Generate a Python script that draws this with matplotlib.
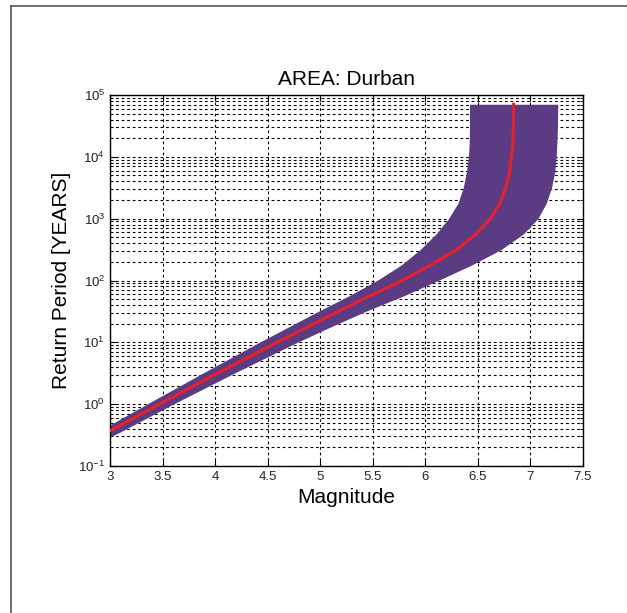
import matplotlib
matplotlib.use("Agg")
import matplotlib.pyplot as plt
from matplotlib.lines import Line2D
from matplotlib.ticker import LogLocator, NullFormatter
import numpy as np

# ---- data ----
log_T = [-0.6, -0.43, 0.0, 0.5, 1.0, 1.25, 1.5, 1.75, 2.0, 2.25, 2.5, 2.75,
         3.0, 3.25, 3.5, 3.75, 4.0, 4.25, 4.5, 4.85]
M_center = [2.81, 3.0, 3.47, 4.02, 4.59, 4.88, 5.17, 5.47, 5.78, 6.05, 6.30, 6.48,
            6.62, 6.71, 6.765, 6.80, 6.82, 6.832, 6.838, 6.84]
M_left = [2.72, 2.90, 3.35, 3.88, 4.42, 4.70, 4.98, 5.27, 5.54, 5.77, 5.95, 6.10,
          6.22, 6.31, 6.36, 6.39, 6.41, 6.418, 6.42, 6.42]
M_right = [2.92, 3.12, 3.60, 4.18, 4.78, 5.10, 5.43, 5.79, 6.12, 6.44, 6.72, 6.93,
           7.07, 7.15, 7.20, 7.23, 7.245, 7.252, 7.257, 7.26]

title = "AREA: Durban"
xlabel = "Magnitude"
ylabel = "Return Period [YEARS]"
xticks = [3, 3.5, 4, 4.5, 5, 5.5, 6, 6.5, 7, 7.5]
xticklabels = ["3", "3.5", "4", "4.5", "5", "5.5", "6", "6.5", "7", "7.5"]

plt.rcParams['font.family'] = ['Liberation Sans', 'DejaVu Sans']
plt.rcParams['mathtext.fontset'] = 'custom'
plt.rcParams['mathtext.rm'] = 'Liberation Sans'

fig = plt.figure(figsize=(6.27, 6.13), dpi=100)
W, H = 627, 613
ax = fig.add_axes([110 / W, 1 - 466 / H, (583 - 110) / W, (466 - 95) / H])

T = 10 ** np.array(log_T)
ax.fill_betweenx(T, M_left, M_right, color="#5B3C82", linewidth=0, zorder=2)
ax.plot(M_center, T, color="#E8202C", linewidth=2.2, zorder=3, solid_joinstyle="round")

ax.set_yscale("log")
ax.set_xlim(3, 7.5)
ax.set_ylim(1e-1, 1e5)
ax.set_xticks(xticks)
ax.set_xticklabels(xticklabels)
ax.yaxis.set_major_locator(LogLocator(base=10, numticks=10))
ax.yaxis.set_minor_locator(LogLocator(base=10, subs=np.arange(2, 10), numticks=100))
ax.yaxis.set_minor_formatter(NullFormatter())

ax.grid(True, which="major", axis="both", color="black", linestyle=(0, (2.5, 2.5)), linewidth=0.8, zorder=1)
ax.grid(True, which="minor", axis="y", color="black", linestyle=(0, (2.5, 2.5)), linewidth=0.8, zorder=1)
ax.set_axisbelow(True)

ax.tick_params(which="both", direction="in", top=True, right=True, labelsize=9.5, colors="black", labelcolor="#222233")
ax.tick_params(which="major", length=4)
ax.tick_params(which="minor", length=2.5)
for s in ax.spines.values():
    s.set_linewidth(1.0)

ax.set_title(title, fontsize=15, pad=7)
ax.set_xlabel(xlabel, fontsize=15, labelpad=4)
ax.set_ylabel(ylabel, fontsize=15, labelpad=5)

# outer frame of the original picture (left and top edges visible)
fig.add_artist(Line2D([11 / W, 11 / W], [0, 1 - 6 / H], transform=fig.transFigure, color="#555555", linewidth=1.2))
fig.add_artist(Line2D([11 / W, 1], [1 - 6 / H, 1 - 6 / H], transform=fig.transFigure, color="#555555", linewidth=1.2))

fig.savefig("out.png", dpi=100, facecolor="white")
